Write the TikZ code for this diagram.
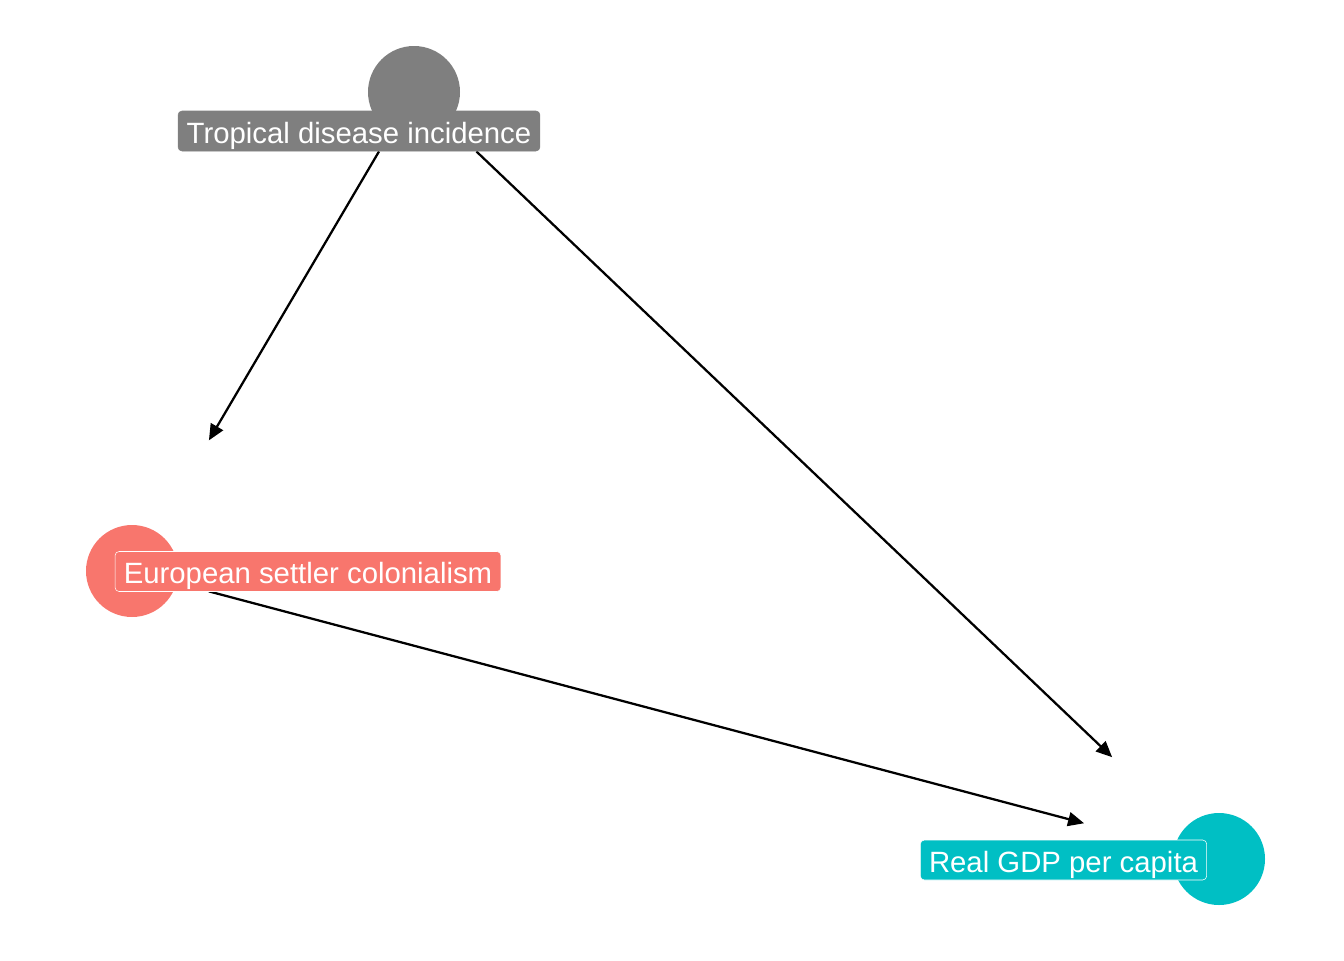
\documentclass[tikz,border=0pt]{standalone}
\usepackage{fontspec}
\setmainfont{Liberation Sans}
\usepackage{xcolor}
\usepackage{tikz}
\usetikzlibrary{arrows.meta, positioning, shapes.geometric}

\definecolor{dotgrey}{HTML}{7F7F7F}
\definecolor{dotsalmon}{HTML}{F8766D}
\definecolor{dotteal}{HTML}{00BFC4}

\tikzset{
  %% Variable dot
  vdot/.style={
    circle, fill=#1, draw=none,
    minimum size=69pt, inner sep=0pt
  },
  vdot/.default=dotgrey,
  %% Label on a variable
  vlab/.style={
    rectangle, rounded corners=3pt,
    fill=#1, draw=white, line width=0.4pt,
    text=white, font=\fontsize{22}{26}\selectfont,
    text height=19.2pt, text depth=0.8pt,
    minimum height=30pt, inner xsep=6.5pt
  },
  vlab/.default=dotgrey,
  %% Arrow
  arr/.style={-{Triangle[length=12pt,width=10.5pt]},
              draw=black, line width=1.7pt},
}

\begin{document}
\begin{tikzpicture}[x=0.75pt, y=-0.75pt]
  \useasboundingbox (0,0) rectangle (1344,960);

  %% Dots
  \node[vdot=dotgrey]   (td)  at (414,92)   {};
  \node[vdot=dotsalmon] (esc) at (132,571)  {};
  \node[vdot=dotteal]   (gdp) at (1219,859) {};

  %% Edges
  \draw[arr, shorten <=17pt, shorten >=79pt] (td)  -- (esc);
  \draw[arr, shorten <=30pt, shorten >=76pt] (td)  -- (gdp);
  \draw[arr, shorten <=25pt, shorten >=70pt] (esc) -- (gdp);

  %% Labels
  \node[vlab=dotgrey, draw=dotgrey] (tdlab)  at (359,131)  {Tropical disease incidence};
  \node[vlab=dotsalmon]             (esclab) at (308,571.5) {European settler colonialism};
  \node[vlab=dotteal]               (gdplab) at (1063.5,860) {Real GDP per capita};

\end{tikzpicture}
\end{document}
